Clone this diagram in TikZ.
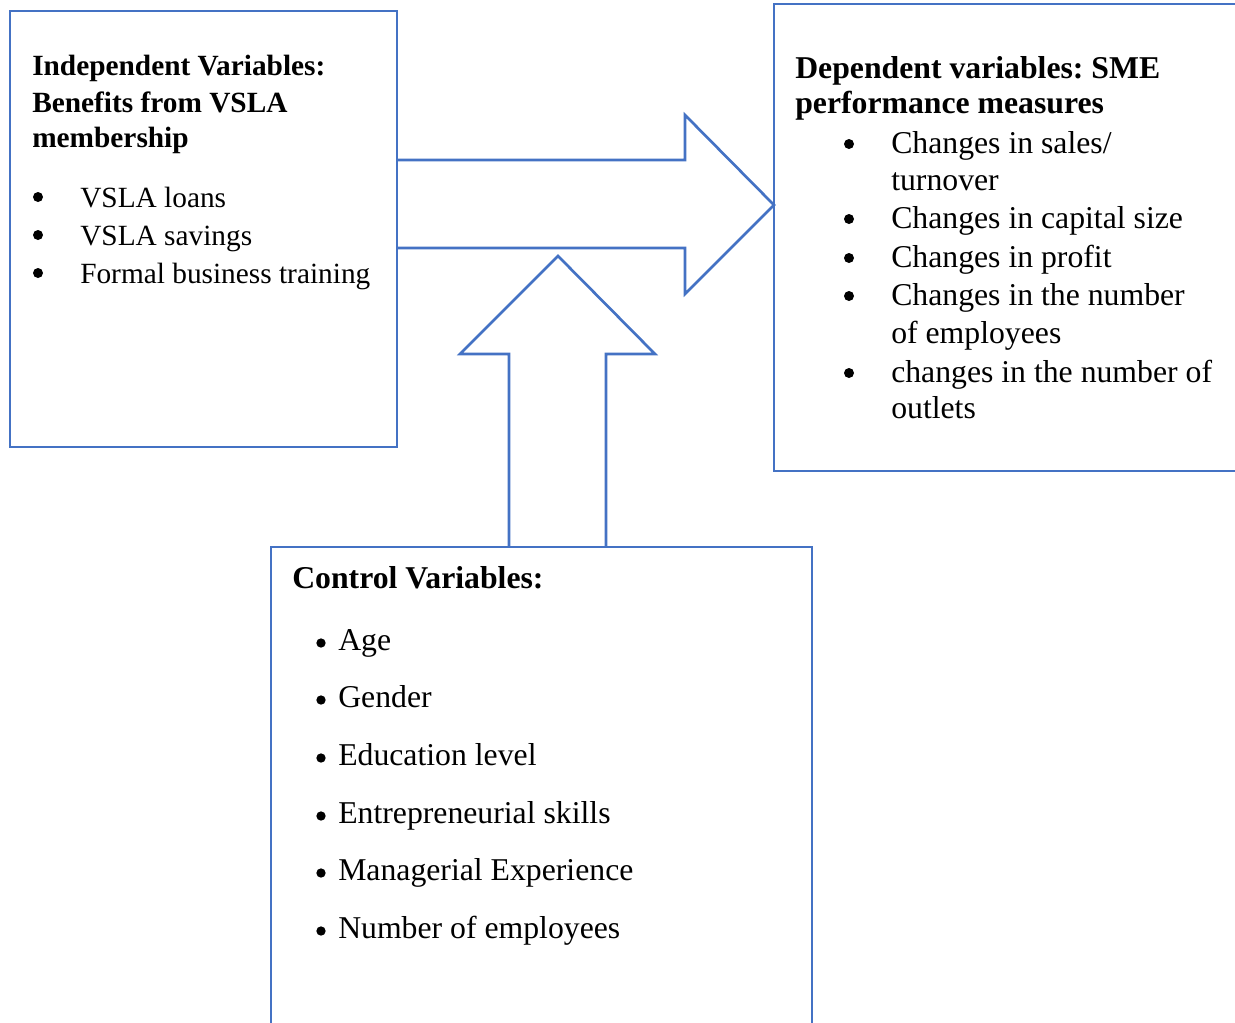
\documentclass[tikz,border=0pt]{standalone}
\usepackage{fontspec}
\setmainfont{Liberation Serif}
\frenchspacing
\definecolor{frameblue}{HTML}{4472C4}
\begin{document}
\begin{tikzpicture}[x=0.75pt,y=-0.75pt,
  frame/.style={draw=frameblue,line width=2pt,line join=miter},
  head/.style={anchor=base west,inner sep=0pt,font=\fontsize{23.8}{28}\selectfont\bfseries},
  item/.style={anchor=base west,inner sep=0pt,font=\fontsize{23.8}{28}\selectfont},
  lefthead/.style={head,font=\fontsize{22}{26}\selectfont\bfseries},
  leftitem/.style={item,font=\fontsize{22}{26}\selectfont},
  dot/.style={circle,fill=black,inner sep=0pt,minimum size=7.5pt},
  smalldot/.style={circle,fill=black,inner sep=0pt,minimum size=7pt}]
\clip (0,0) rectangle (1235,1022);
\fill[white] (0,0) rectangle (1235,1022);

% boxes
\draw[frame] (10,11) rectangle (397,447);
\draw[frame] (774,4) rectangle (1250,471);
\draw[frame] (271,547) rectangle (812,1040);

% block arrow: independent -> dependent
\draw[frame] (397,160) -- (685,160) -- (685,115) -- (774,205) -- (685,294)
  -- (685,248) -- (397,248);
% block arrow: control variables upwards
\draw[frame] (509,547) -- (509,354) -- (460,354) -- (558,256) -- (655,354)
  -- (606,354) -- (606,547);

% independent variables
\node[lefthead] (ih1) at (32,75) {Independent Variables:};
\node[lefthead] (ih2) at (32,112) {Benefits from VSLA};
\node[lefthead] (ih3) at (32,147) {membership};
\node[dot] (ib1) at (38,197) {};
\node[dot] (ib2) at (38,235) {};
\node[dot] (ib3) at (38,273) {};
\node[leftitem] (ii1) at (80,207) {VSLA loans};
\node[leftitem] (ii2) at (80,245) {VSLA savings};
\node[leftitem] (ii3) at (80,283) {Formal business training};

% dependent variables
\node[head] (dh1) at (795,78) {Dependent variables: SME};
\node[head] (dh2) at (795,113) {performance measures};
\node[dot] (db1) at (849,144) {};
\node[dot] (db2) at (849,219) {};
\node[dot] (db3) at (849,258) {};
\node[dot] (db4) at (849,296) {};
\node[dot] (db5) at (849,373) {};
\node[item] (di1) at (891,153) {Changes in sales/};
\node[item] (di1b) at (891,190) {turnover};
\node[item] (di2) at (891,228) {Changes in capital size};
\node[item] (di3) at (891,267) {Changes in profit};
\node[item] (di4) at (891,305) {Changes in the number};
\node[item] (di4b) at (891,343) {of employees};
\node[item] (di5) at (891,382) {changes in the number of};
\node[item] (di5b) at (891,418) {outlets};

% control variables
\node[head] (ch) at (292,588) {Control Variables:};
\node[smalldot] (cb1) at (321,643) {};
\node[smalldot] (cb2) at (321,700) {};
\node[smalldot] (cb3) at (321,758) {};
\node[smalldot] (cb4) at (321,816) {};
\node[smalldot] (cb5) at (321,873) {};
\node[smalldot] (cb6) at (321,931) {};
\node[item] (c1) at (338,650) {Age};
\node[item] (c2) at (338,707) {Gender};
\node[item] (c3) at (338,765) {Education level};
\node[item] (c4) at (338,823) {Entrepreneurial skills};
\node[item] (c5) at (338,880) {Managerial Experience};
\node[item] (c6) at (338,938) {Number of employees};
\end{tikzpicture}
\end{document}
